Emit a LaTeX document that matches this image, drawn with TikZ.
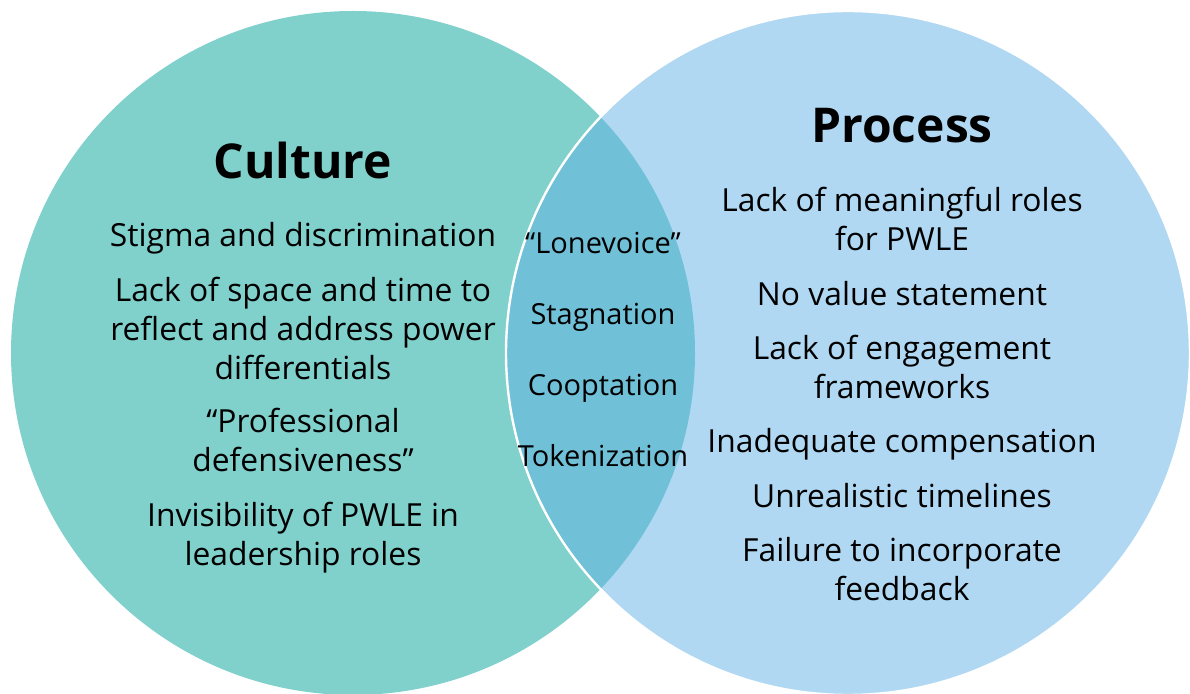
\documentclass[tikz,border=0pt]{standalone}
\usepackage{fontspec}
\setmainfont{Open Sans}

\definecolor{culturefill}{HTML}{80D0CC}
\definecolor{processfill}{HTML}{B0D8F2}
\definecolor{overlapfill}{HTML}{70C0D8}

\tikzset{
  heading/.style={font=\fontsize{24}{28}\selectfont\bfseries, anchor=base, inner sep=0pt},
  item/.style={font=\fontsize{15.9}{19.5}\selectfont, align=center, anchor=base, inner sep=0pt},
  shared/.style={item, font=\fontsize{14.5}{19.5}\selectfont},
}

\begin{document}
\begin{tikzpicture}[x=0.5pt,y=-0.5pt]
\def\rad{342} %radius of both circles
\def\lx{353} %centre of the left circle
\def\rx{848} %centre of the right circle
\def\cy{353} %height of both centres
\useasboundingbox (0,0) rectangle (1190,694);

\fill[culturefill] (\lx,\cy) circle (\rad);
\fill[processfill] (\rx,\cy) circle (\rad);
\begin{scope}
  \clip (\lx,\cy) circle (\rad); %only where the two meet
  \fill[overlapfill] (\rx,\cy) circle (\rad);
\end{scope}
\draw[white, line width=1.2pt] (\rx,\cy) circle (\rad); %thin white rim

\node[heading] (culture) at (303,179) {Culture};
\node[heading] (process) at (902,143) {Process};

% left circle (base = last line)
\node[item] (c1) at (303,247) {Stigma and discrimination};
\node[item] (c2) at (303,380) {Lack of space and time to\\reflect and address power\\differentials};
\node[item] (c3) at (303,472) {“Professional\\defensiveness”};
\node[item] (c4) at (303,566) {Invisibility of PWLE in\\leadership roles};

% overlap
\foreach \w [count=\i] in {“Lonevoice”,Stagnation,Cooptation,Tokenization}
  \node[shared] (m\i) at (603,183+71*\i) {\w};

% right circle
\node[item] (p1) at (902,251) {Lack of meaningful roles\\for PWLE};
\node[item] (p2) at (902,306) {No value statement};
\node[item] (p3) at (902,399) {Lack of engagement\\frameworks};
\node[item] (p4) at (902,453) {Inadequate compensation};
\node[item] (p5) at (902,508) {Unrealistic timelines};
\node[item] (p6) at (902,601) {Failure to incorporate\\feedback};
\end{tikzpicture}
\end{document}
